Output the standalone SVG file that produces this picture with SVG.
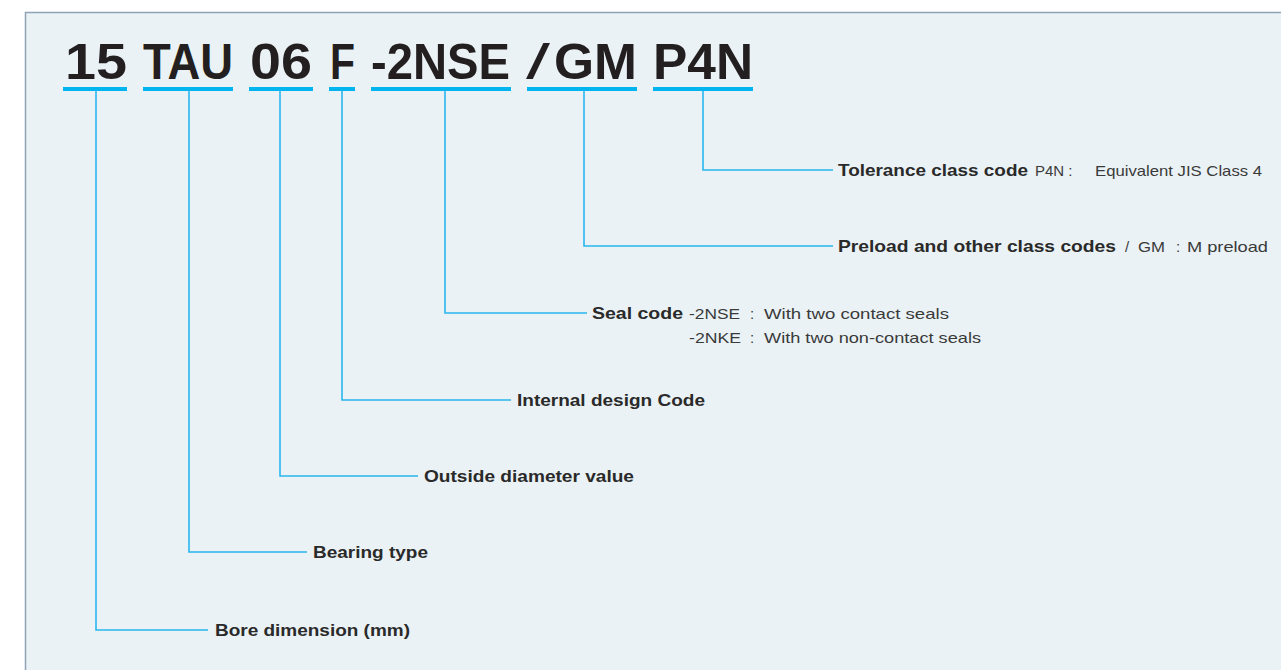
<svg xmlns="http://www.w3.org/2000/svg" width="1281" height="670" viewBox="0 0 1281 670">
<style>
.code{font-family:"Liberation Sans",Arial,sans-serif;font-weight:bold;font-size:50px;fill:#231f20}
.slash{font-family:"Liberation Sans",Arial,sans-serif;font-weight:normal;font-size:50px;fill:#231f20}
.ul{stroke:#00b4ef;stroke-width:4;fill:none}
.ln{stroke:#29b6f0;stroke-width:1.6;fill:none}
.lb{font-family:"Liberation Sans",Arial,sans-serif;font-weight:bold;font-size:17px;fill:#2a2a2a}
.tx{font-family:"Liberation Sans",Arial,sans-serif;font-size:15px;fill:#3a3a3a}
</style>
<rect x="0" y="0" width="1281" height="670" fill="#ffffff"/>
<rect x="25.5" y="12.5" width="1270" height="670" fill="#eaf2f5" stroke="#8ea3b8" stroke-width="1.5"/>
<g id="title">
<text class="code" x="65" y="79" textLength="62" lengthAdjust="spacingAndGlyphs">15</text>
<text class="code" x="143" y="79" textLength="90" lengthAdjust="spacingAndGlyphs">TAU</text>
<text class="code" x="250" y="79" textLength="62" lengthAdjust="spacingAndGlyphs">06</text>
<text class="code" x="330" y="79" textLength="25" lengthAdjust="spacingAndGlyphs">F</text>
<text class="code" x="371" y="79" textLength="139" lengthAdjust="spacingAndGlyphs">-2NSE</text>
<text class="slash" x="526" y="79" textLength="24" lengthAdjust="spacingAndGlyphs">/</text>
<text class="code" x="554" y="79" textLength="83" lengthAdjust="spacingAndGlyphs">GM</text>
<text class="code" x="653" y="79" textLength="100" lengthAdjust="spacingAndGlyphs">P4N</text>
</g>
<g id="underlines">
<line class="ul" x1="63" y1="89" x2="127" y2="89"/>
<line class="ul" x1="143" y1="89" x2="233" y2="89"/>
<line class="ul" x1="249" y1="89" x2="313" y2="89"/>
<line class="ul" x1="329" y1="89" x2="355" y2="89"/>
<line class="ul" x1="371" y1="89" x2="511" y2="89"/>
<line class="ul" x1="527" y1="89" x2="637" y2="89"/>
<line class="ul" x1="653" y1="89" x2="753" y2="89"/>
</g>
<g id="connectors">
<polyline class="ln" points="96,91 96,630 208,630"/>
<polyline class="ln" points="189,91 189,552 307,552"/>
<polyline class="ln" points="280,91 280,476 418,476"/>
<polyline class="ln" points="342,91 342,400 511,400"/>
<polyline class="ln" points="445,91 445,313 587,313"/>
<polyline class="ln" points="584,91 584,246 833,246"/>
<polyline class="ln" points="703,91 703,170 833,170"/>
</g>
<g id="tolerance">
<text class="lb" x="838" y="176" textLength="190" lengthAdjust="spacingAndGlyphs">Tolerance class code</text>
<text class="tx" x="1035" y="176">P4N :</text>
<text class="tx" x="1095" y="176" textLength="167" lengthAdjust="spacingAndGlyphs">Equivalent JIS Class 4</text>
</g>
<g id="preload">
<text class="lb" x="838" y="252" textLength="278" lengthAdjust="spacingAndGlyphs">Preload and other class codes</text>
<text class="tx" x="1125" y="252">/</text>
<text class="tx" x="1138" y="252" textLength="27" lengthAdjust="spacingAndGlyphs">GM</text>
<text class="tx" x="1176" y="252">:</text>
<text class="tx" x="1187" y="252" textLength="81" lengthAdjust="spacingAndGlyphs">M  preload</text>
</g>
<g id="seal">
<text class="lb" x="592" y="319" textLength="91" lengthAdjust="spacingAndGlyphs">Seal code</text>
<text class="tx" x="689" y="319" textLength="51" lengthAdjust="spacingAndGlyphs">-2NSE</text>
<text class="tx" x="750" y="319">:</text>
<text class="tx" x="764" y="319" textLength="185" lengthAdjust="spacingAndGlyphs">With  two contact seals</text>
<text class="tx" x="689" y="343" textLength="52" lengthAdjust="spacingAndGlyphs">-2NKE</text>
<text class="tx" x="750" y="343">:</text>
<text class="tx" x="764" y="343" textLength="217" lengthAdjust="spacingAndGlyphs">With  two non-contact seals</text>
</g>
<g id="internal">
<text class="lb" x="517" y="406" textLength="188" lengthAdjust="spacingAndGlyphs">Internal design Code</text>
</g>
<g id="outside">
<text class="lb" x="424" y="482" textLength="210" lengthAdjust="spacingAndGlyphs">Outside diameter value</text>
</g>
<g id="bearing">
<text class="lb" x="313" y="558" textLength="115" lengthAdjust="spacingAndGlyphs">Bearing type</text>
</g>
<g id="bore">
<text class="lb" x="215" y="636" textLength="195" lengthAdjust="spacingAndGlyphs">Bore dimension (mm)</text>
</g>
</svg>
